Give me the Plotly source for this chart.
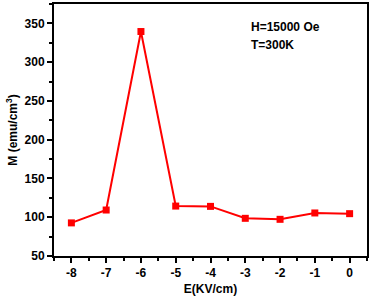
import plotly.graph_objects as go

E = [-8, -7, -6, -5, -4, -3, -2, -1, 0]
M = [92.7, 109.3, 339.5, 114.4, 114.0, 98.6, 97.3, 105.5, 104.6]
x_ticks = [-8, -7, -6, -5, -4, -3, -2, -1, 0]
y_ticks = [50, 100, 150, 200, 250, 300, 350]

fig = go.Figure()
fig.add_trace(go.Scatter(
    x=E, y=M, mode="lines+markers",
    line=dict(color="#ff0000", width=2),
    marker=dict(symbol="square", size=7, color="#ff0000"),
    showlegend=False,
))

font = dict(family="Liberation Sans, Arial, sans-serif", size=12, color="black")

fig.update_layout(
    width=371, height=297,
    margin=dict(l=54, r=2, t=2, b=41),
    plot_bgcolor="white", paper_bgcolor="white",
    font=font,
    xaxis=dict(
        range=[-8.5, 0.5], tickvals=x_ticks, ticktext=[f"<b>{v}</b>" for v in x_ticks],
        ticks="outside", ticklen=5, tickwidth=2, tickcolor="black",
        minor=dict(dtick=0.5, ticks="outside", ticklen=3, tickwidth=2, tickcolor="black"),
        showline=True, linewidth=2, linecolor="black", mirror=True,
        showgrid=False, zeroline=False,
        title=dict(text="<b>E(KV/cm)</b>", font=dict(size=12), standoff=5),
    ),
    yaxis=dict(
        range=[50, 375], tickvals=y_ticks, ticktext=[f"<b>{v}</b>" for v in y_ticks],
        ticks="outside", ticklen=5, tickwidth=2, tickcolor="black",
        minor=dict(dtick=25, tick0=50, ticks="outside", ticklen=3, tickwidth=2, tickcolor="black"),
        showline=True, linewidth=2, linecolor="black", mirror=True,
        showgrid=False, zeroline=False,
        title=dict(text="<b>M (emu/cm<sup>3</sup>)</b>", font=dict(size=12), standoff=4),
    ),
    annotations=[
        dict(x=0.622, y=0.909, xref="paper", yref="paper", xanchor="left", yanchor="middle",
             text="<b>H=15000 Oe</b>", showarrow=False, font=dict(size=12)),
        dict(x=0.622, y=0.839, xref="paper", yref="paper", xanchor="left", yanchor="middle",
             text="<b>T=300K</b>", showarrow=False, font=dict(size=12)),
    ],
)

fig.write_html("out.html", config={"displayModeBar": False},
               post_script="document.body.style.margin='0';")
